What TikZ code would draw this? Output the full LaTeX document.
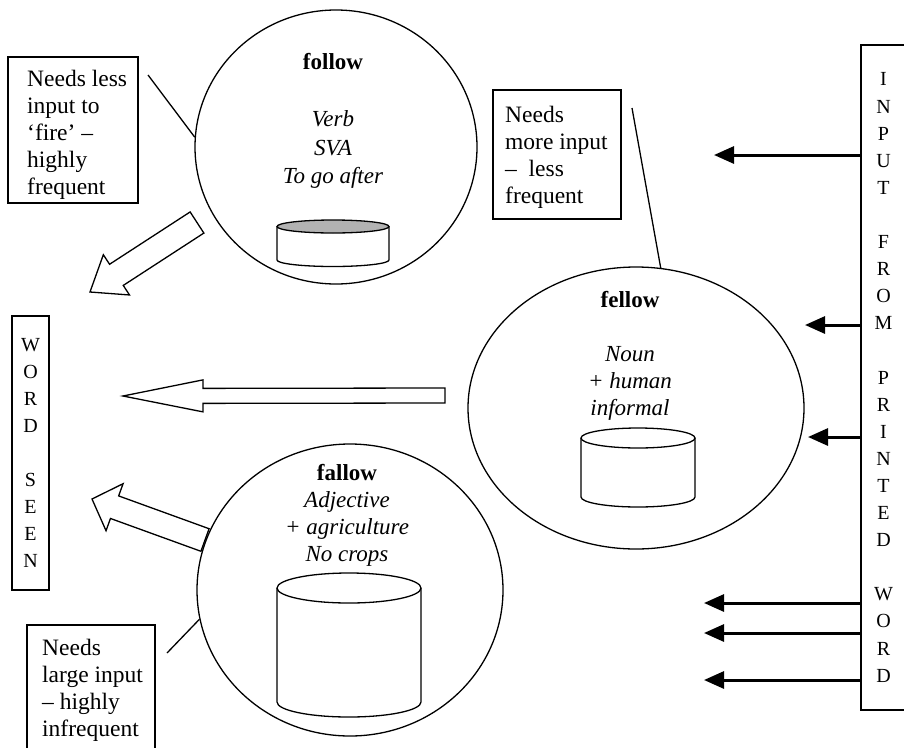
\documentclass[tikz,border=0pt]{standalone}
\usepackage{fontspec}
\setmainfont{Liberation Serif}
\usetikzlibrary{calc,arrows.meta,shapes.geometric}

\newcommand\notefont{\fontsize{23.5pt}{27pt}\selectfont}
\newcommand\stackfont{\fontsize{20pt}{27.1pt}\selectfont}

\tikzset{
  outline/.style={draw, line width=1.3pt},
  noteframe/.style={outline, rectangle, inner sep=0pt},
  notetext/.style={align=left, inner sep=0pt, font=\notefont},
  bubble/.style={outline, ellipse, inner sep=0pt},
  wordtext/.style={align=center, inner sep=0pt},
  letterbox/.style={outline, rectangle, align=center, inner sep=0pt, font=\stackfont},
  leader/.style={line width=1.3pt},
  blockarr/.style={draw, line width=1.3pt, fill=white, line join=miter},
  feed/.style={line width=3pt, -{Triangle[length=20pt,width=17pt]}},
  drumline/.style={line width=1.3pt},
}

% cylinder: centre x, top y, bottom y, x radius, y radius, lid colour
\newcommand\drum[6]{%
  \draw[drumline, fill=white] (#1-#4,#2) -- (#1-#4,#3)
    arc[start angle=180, end angle=0, x radius=#4, y radius=#5] -- (#1+#4,#2);
  \draw[drumline, fill=#6] (#1,#2) ellipse[x radius=#4, y radius=#5];
}

% outlined block arrow: tail, tip, half shaft, half head, head length
\newcommand\blockarrow[5]{%
  \coordinate (#1-base) at ($(#2)!#5!(#1)$);
  \draw[blockarr]
    ($(#1)!#3!90:(#2)$) -- ($(#1-base)!#3!90:(#2)$) -- ($(#1-base)!#4!90:(#2)$)
    -- (#2) -- ($(#1-base)!#4!-90:(#2)$) -- ($(#1-base)!#3!-90:(#2)$)
    -- ($(#1)!#3!-90:(#2)$) -- cycle;
}

\begin{document}
\begin{tikzpicture}[x=1pt,y=-1pt]
\useasboundingbox (0,0) rectangle (904,747);
\fill[white] (0,0) rectangle (904,747);
\clip (0,0) rectangle (904,747);

% the three word units
\node[bubble, minimum width=282pt, minimum height=274pt] (follow) at (336,147) {};
\node[bubble, minimum width=336pt, minimum height=282pt] (fellow) at (636,408) {};
\node[bubble, minimum width=306pt, minimum height=292pt] (fallow) at (350,590) {};

\node[wordtext, font=\fontsize{23pt}{28.5pt}\selectfont] (followtxt) at (333,121)
  {\textbf{follow}\\[28.5pt]\textit{Verb}\\\textit{SVA}\\\textit{To go after}};
\node[wordtext, font=\fontsize{23pt}{27pt}\selectfont] (fellowtxt) at (630,356)
  {\textbf{fellow}\\[27pt]\textit{Noun}\\\textit{+ human}\\\textit{informal}};
\node[wordtext, font=\fontsize{23pt}{27pt}\selectfont] (fallowtxt) at (347,515)
  {\textbf{fallow}\\\textit{Adjective}\\\textit{+ agriculture}\\\textit{No crops}};

% activation stores
\drum{333}{226.5}{260}{56}{6.5}{black!30}
\drum{638}{438}{497}{57}{10}{white}
\drum{349}{588}{702}{72}{15}{white}

% notes with leader lines
\node[noteframe, minimum width=130pt, minimum height=146pt] (noteA) at (73,130) {};
\node[notetext, anchor=west] (noteAtxt) at (27,135)
  {Needs less\\input to\\‘fire’ –\\highly\\frequent};
\node[noteframe, minimum width=128pt, minimum height=129pt] (noteB) at (557,154.5) {};
\node[notetext, anchor=west] (noteBtxt) at (505,157)
  {Needs\\more input\\– \ less\\frequent};
\node[noteframe, minimum width=128pt, minimum height=128pt] (noteC) at (91,689) {};
\node[notetext, anchor=west] (noteCtxt) at (42,690)
  {Needs\\large input\\– highly\\infrequent};

\coordinate (leadA) at (148,75);
\coordinate (leadB) at (632,108);
\coordinate (leadC) at (167,653);
\draw[leader] (leadA) -- (follow.176);
\draw[leader] (leadB) -- (fellow.80);
\draw[leader] (leadC) -- (fallow.191);

% output side
\node[letterbox, minimum width=37pt, minimum height=274pt] (seen) at (30.5,453)
  {W\\O\\R\\D\\[27pt]S\\E\\E\\N};

\coordinate (outA) at (197,222.5);  \coordinate (outAtip) at (90,292);
\coordinate (outB) at (445,395.5);  \coordinate (outBtip) at (123,396);
\coordinate (outC) at (205,540);    \coordinate (outCtip) at (92,499);
\blockarrow{outA}{outAtip}{12.6pt}{24pt}{31.5pt}
\blockarrow{outB}{outBtip}{7.5pt}{16pt}{80pt}
\blockarrow{outC}{outCtip}{12pt}{25pt}{24pt}

% input side
\node[letterbox, minimum width=45pt, minimum height=665pt] (inbox) at (883.5,377.5)
  {I\\N\\P\\U\\T\\[27.1pt]F\\R\\O\\M\\[27.1pt]P\\R\\I\\N\\T\\E\\D\\[27.1pt]W\\O\\R\\D};

\coordinate (feed1) at (714,155);
\coordinate (feed2) at (805,325);
\coordinate (feed3) at (808,437);
\coordinate (feed4) at (704,603);
\coordinate (feed5) at (704,633);
\coordinate (feed6) at (704,680);
\foreach \f in {feed1,feed2,feed3,feed4,feed5,feed6}
  \draw[feed] (inbox.west |- \f) -- (\f);
\end{tikzpicture}
\end{document}
